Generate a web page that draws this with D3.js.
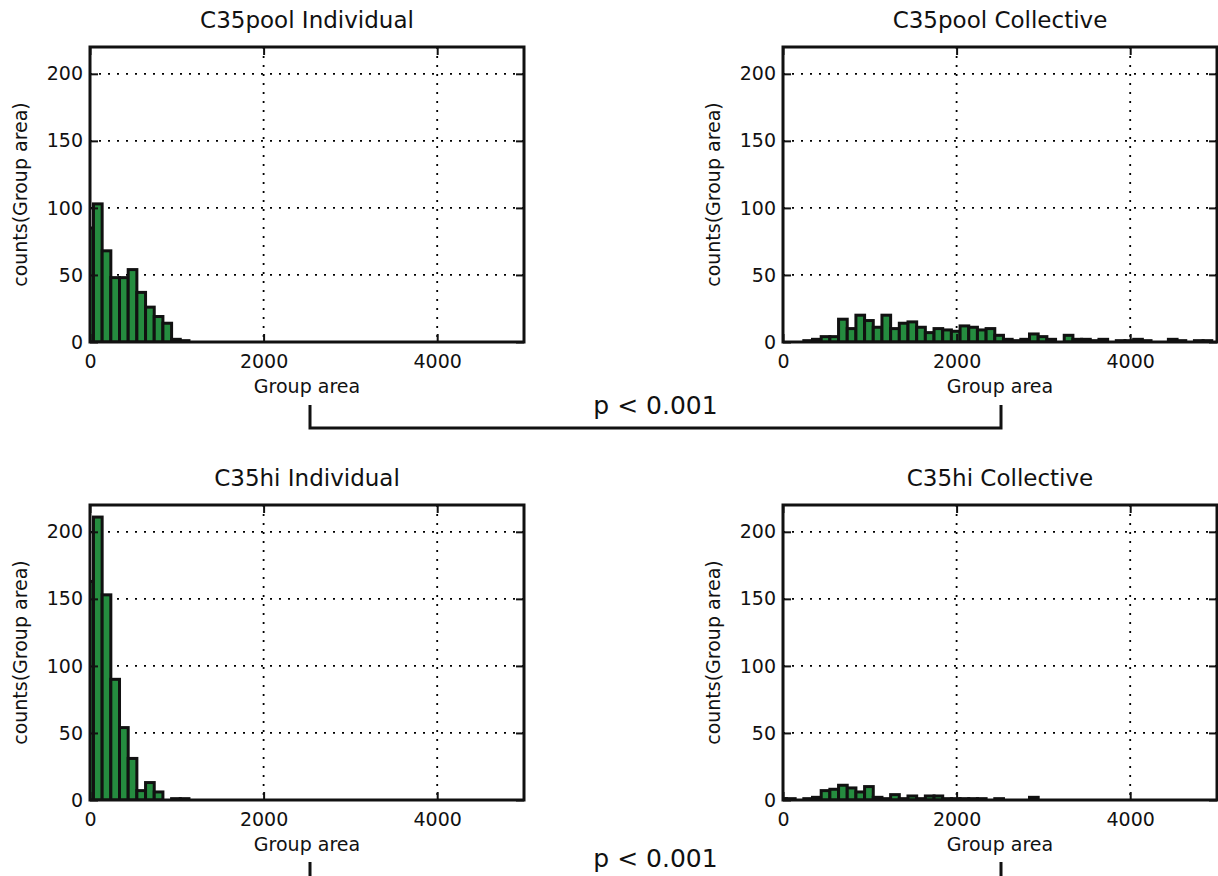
<!DOCTYPE html>
<html>
<head>
<meta charset="utf-8">
<script src="https://cdn.jsdelivr.net/npm/d3@7"></script>
<style>
  body { margin: 0; background: #fff; }
  svg text { font-family: "DejaVu Sans", sans-serif; fill: #111; }
</style>
</head>
<body>
<div id="chart"></div>
<script>
// Histogram bins (left edge of each bin, width 100)
var binEdges = [-60, 40, 140, 240, 340, 440, 540, 640, 740, 840, 940, 1040, 1140, 1240, 1340,
  1440, 1540, 1640, 1740, 1840, 1940, 2040, 2140, 2240, 2340, 2440, 2540, 2640, 2740, 2840,
  2940, 3040, 3140, 3240, 3340, 3440, 3540, 3640, 3740, 3840, 3940, 4040, 4140, 4240, 4340,
  4440, 4540, 4640, 4740, 4840, 4940];
var binWidth = 100;

// counts per bin
var poolIndividual = [85, 103, 68, 48, 48, 54, 37, 26, 19, 14, 2, 1];
var poolCollective = [0, 0, 0, 1, 2, 4, 4, 17, 10, 20, 16, 11, 20, 10, 14, 15, 11, 7, 10, 9,
  8, 12, 11, 9, 10, 5, 2, 1, 2, 6, 4, 2, 0, 5, 2, 2, 1, 2, 0, 1, 1, 2, 1, 0, 0, 2, 1, 0, 1, 1, 0];
var hiIndividual = [163, 211, 153, 90, 54, 31, 7, 13, 6, 0, 1, 1];
var hiCollective = [1, 1, 0, 1, 2, 7, 8, 11, 9, 6, 10, 2, 1, 4, 1, 3, 1, 3, 3, 1, 1, 1, 1, 1, 0, 1, 0, 0, 0, 2];

var panelTitles = ["C35pool Individual", "C35pool Collective", "C35hi Individual", "C35hi Collective"];
var xTicks = [0, 2000, 4000];
var yTicks = [0, 50, 100, 150, 200];
var xDomain = [0, 5000];
var yDomain = [0, 220];
var xLabel = "Group area";
var yLabel = "counts(Group area)";
var pLabels = ["p < 0.001", "p < 0.001"];

var svgWidth = 1218;
var svgHeight = 876;

var plotW = 434;
var plotH = 295;
var lefts = [90, 783];
var tops = [47, 505];

var panels = [
  { title: panelTitles[0], counts: poolIndividual, x: lefts[0], y: tops[0] },
  { title: panelTitles[1], counts: poolCollective, x: lefts[1], y: tops[0] },
  { title: panelTitles[2], counts: hiIndividual, x: lefts[0], y: tops[1] },
  { title: panelTitles[3], counts: hiCollective, x: lefts[1], y: tops[1] }
];

var svg = d3.select("#chart")
  .append("svg")
  .attr("width", svgWidth)
  .attr("height", svgHeight);

var xScale = d3.scaleLinear().domain(xDomain).range([0, plotW]);
var yScale = d3.scaleLinear().domain(yDomain).range([plotH, 0]);

panels.forEach(function(p, k) {
  var g = svg.append("g").attr("transform", `translate(${p.x}, ${p.y})`);

  var clipId = "clip" + k;
  g.append("clipPath").attr("id", clipId)
    .append("rect").attr("width", plotW).attr("height", plotH);

  // dotted grid
  g.selectAll(".vgrid").data(xTicks.filter(d => d > 0)).enter()
    .append("line")
    .attr("x1", d => xScale(d)).attr("x2", d => xScale(d))
    .attr("y1", 0).attr("y2", plotH)
    .attr("stroke", "#000").attr("stroke-width", 1.8)
    .attr("stroke-dasharray", "2,7");
  g.selectAll(".hgrid").data(yTicks.filter(d => d > 0)).enter()
    .append("line")
    .attr("x1", 0).attr("x2", plotW)
    .attr("y1", d => yScale(d)).attr("y2", d => yScale(d))
    .attr("stroke", "#000").attr("stroke-width", 1.8)
    .attr("stroke-dasharray", "2,7");

  // bars
  var bins = p.counts.map((c, i) => ({ x0: binEdges[i], count: c })).filter(d => d.count > 0);
  g.append("g").attr("clip-path", `url(#${clipId})`)
    .selectAll("rect").data(bins).enter()
    .append("rect")
    .attr("x", d => xScale(d.x0))
    .attr("y", d => yScale(d.count))
    .attr("width", d => xScale(d.x0 + binWidth) - xScale(d.x0))
    .attr("height", d => plotH - yScale(d.count))
    .attr("fill", "#258c3f")
    .attr("stroke", "#111")
    .attr("stroke-width", 3);

  // axes with inward ticks
  var leftAxis = g.append("g")
    .call(d3.axisLeft(yScale).tickValues(yTicks).tickSize(-8).tickPadding(7));
  var bottomAxis = g.append("g")
    .attr("transform", `translate(0, ${plotH})`)
    .call(d3.axisBottom(xScale).tickValues(xTicks).tickSize(-8).tickPadding(13)
      .tickFormat(d3.format("d")));
  g.append("g")
    .attr("transform", `translate(${plotW}, 0)`)
    .call(d3.axisRight(yScale).tickValues(yTicks).tickSize(-8).tickFormat(""));
  g.append("g")
    .call(d3.axisTop(xScale).tickValues(xTicks).tickSize(-8).tickFormat(""));

  g.selectAll(".domain").remove();
  g.selectAll(".tick line").attr("stroke", "#111").attr("stroke-width", 2);
  [leftAxis, bottomAxis].forEach(function(a) {
    a.attr("font-family", null).attr("font-size", null);
    a.selectAll("text").attr("font-size", "19px").attr("fill", "#111");
  });

  // frame
  g.append("rect")
    .attr("width", plotW).attr("height", plotH)
    .attr("fill", "none").attr("stroke", "#111").attr("stroke-width", 3);

  // title
  g.append("text")
    .attr("x", plotW / 2).attr("y", -19)
    .attr("text-anchor", "middle")
    .attr("font-size", "23px")
    .text(p.title);

  // x label
  g.append("text")
    .attr("x", plotW / 2).attr("y", plotH + 51)
    .attr("text-anchor", "middle")
    .attr("font-size", "19px")
    .text(xLabel);

  // y label
  g.append("text")
    .attr("transform", `translate(${-63}, ${plotH / 2}) rotate(-90)`)
    .attr("text-anchor", "middle")
    .attr("font-size", "19px")
    .text(yLabel);
});

// significance brackets between individual and collective panels
var bracketX = [310, 1001];
var brackets = [
  { top: 405, bottom: 428, textY: 414, label: pLabels[0] },
  { top: 862, bottom: 878, textY: 867, label: pLabels[1] }
];

brackets.forEach(function(b) {
  svg.append("path")
    .attr("d", `M${bracketX[0]},${b.top} V${b.bottom} H${bracketX[1]} V${b.top}`)
    .attr("fill", "none")
    .attr("stroke", "#111")
    .attr("stroke-width", 3);
  svg.append("text")
    .attr("x", (bracketX[0] + bracketX[1]) / 2)
    .attr("y", b.textY)
    .attr("text-anchor", "middle")
    .attr("font-size", "25px")
    .text(b.label);
});
</script>
</body>
</html>
